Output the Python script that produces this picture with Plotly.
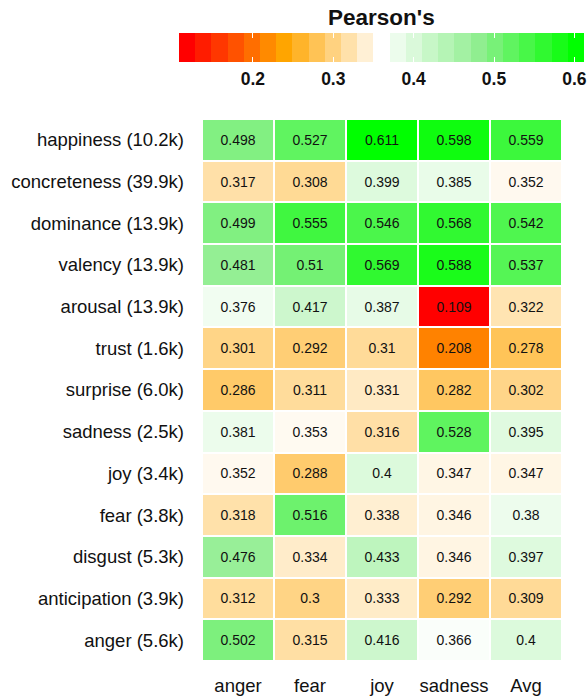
import plotly.graph_objects as go

rows = ["happiness (10.2k)", "concreteness (39.9k)", "dominance (13.9k)", "valency (13.9k)",
        "arousal (13.9k)", "trust (1.6k)", "surprise (6.0k)", "sadness (2.5k)", "joy (3.4k)",
        "fear (3.8k)", "disgust (5.3k)", "anticipation (3.9k)", "anger (5.6k)"]
cols = ["anger", "fear", "joy", "sadness", "Avg"]

happiness = [0.498, 0.527, 0.611, 0.598, 0.559]
concreteness = [0.317, 0.308, 0.399, 0.385, 0.352]
dominance = [0.499, 0.555, 0.546, 0.568, 0.542]
valency = [0.481, 0.51, 0.569, 0.588, 0.537]
arousal = [0.376, 0.417, 0.387, 0.109, 0.322]
trust = [0.301, 0.292, 0.31, 0.208, 0.278]
surprise = [0.286, 0.311, 0.331, 0.282, 0.302]
sadness = [0.381, 0.353, 0.316, 0.528, 0.395]
joy = [0.352, 0.288, 0.4, 0.347, 0.347]
fear = [0.318, 0.516, 0.338, 0.346, 0.38]
disgust = [0.476, 0.334, 0.433, 0.346, 0.397]
anticipation = [0.312, 0.3, 0.333, 0.292, 0.309]
anger = [0.502, 0.315, 0.416, 0.366, 0.4]

z = [happiness, concreteness, dominance, valency, arousal, trust, surprise,
     sadness, joy, fear, disgust, anticipation, anger]
text = [[f"{v:g}" for v in r] for r in z]

legend_ticks = [0.2, 0.3, 0.4, 0.5, 0.6]
legend_lo, legend_hi, n_bins = 0.108, 0.612, 25

colorscale = [[0, "rgb(255,0,0)"], [0.25, "rgb(255,165,0)"], [0.5, "rgb(255,255,255)"],
              [0.75, "rgb(144,238,144)"], [1, "rgb(0,255,0)"]]
zmin, zmax = 0.109, 0.611

W, H = 588, 698
def px_x(a, b):
    return [a / W, b / W]
def px_y(top, bottom):
    return [(H - bottom) / H, (H - top) / H]

fig = go.Figure()
fig.add_trace(go.Heatmap(
    z=z, x=cols, y=rows, text=text, texttemplate="%{text}",
    textfont=dict(family="Arial, Liberation Sans", size=14, color="#111"),
    colorscale=colorscale, zmin=zmin, zmax=zmax, showscale=False,
    xgap=2, ygap=2, hoverinfo="skip"))

# binned legend bar
w = (legend_hi - legend_lo) / n_bins
centers = [legend_lo + (i + 0.5) * w for i in range(n_bins)]
fig.add_trace(go.Heatmap(
    z=[centers], x=centers, y=[0], colorscale=colorscale,
    zmin=centers[0], zmax=centers[-1], showscale=False,
    xaxis="x2", yaxis="y2", hoverinfo="skip"))

fig.update_layout(
    width=W, height=H, autosize=False,
    margin=dict(l=0, r=0, t=0, b=0),
    paper_bgcolor="white", plot_bgcolor="white",
    font=dict(family="Arial, Liberation Sans", color="#111"),
    xaxis=dict(domain=px_x(202, 562), showgrid=False, zeroline=False, showline=False,
               ticks="", tickfont=dict(size=18.5, color="#111"), ticklabelstandoff=11,
               automargin=False, fixedrange=True),
    yaxis=dict(domain=px_y(119, 661), autorange="reversed", showgrid=False, zeroline=False,
               showline=False, ticks="", tickfont=dict(size=18.5, color="#111"),
               ticklabelstandoff=17, automargin=False, fixedrange=True),
    xaxis2=dict(domain=px_x(179, 584), anchor="y2", range=[legend_lo, legend_hi],
                showgrid=False, zeroline=False, showline=False,
                tickvals=legend_ticks, ticktext=[f"{t:g}" for t in legend_ticks],
                ticks="inside", ticklen=5, tickwidth=1, tickcolor="white", mirror="ticks",
                tickfont=dict(size=17.5, color="#111", family="Arial, Liberation Sans",
                              weight="bold"),
                ticklabelstandoff=4, automargin=False, fixedrange=True),
    yaxis2=dict(domain=px_y(33, 62), anchor="x2", range=[-0.5, 0.5], showgrid=False,
                zeroline=False, showline=False, showticklabels=False, ticks="",
                automargin=False, fixedrange=True),
    annotations=[dict(text="<b>Pearson's</b>", x=381.5 / W, y=(H - 17.5) / H,
                      xref="paper", yref="paper", showarrow=False,
                      xanchor="center", yanchor="middle",
                      font=dict(size=22.5, color="#111", family="Arial, Liberation Sans"))],
)

fig.write_html("out.html", config={"displayModeBar": False, "staticPlot": True},
               post_script="document.body.style.margin='0';document.body.style.overflow='hidden';")
